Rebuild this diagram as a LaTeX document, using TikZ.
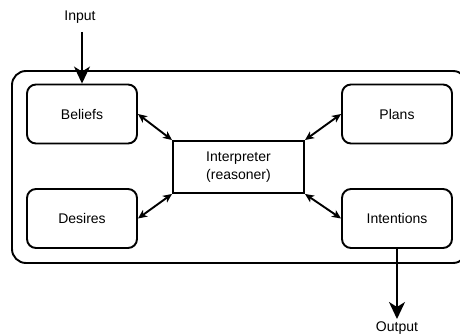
\documentclass[tikz,border=0pt]{standalone}
\usepackage{fontspec}
\setmainfont{Liberation Sans}
\usetikzlibrary{arrows.meta}
\begin{document}
\begin{tikzpicture}[x=1pt,y=-1pt,
  line width=1.9pt,
  font=\fontsize{14}{17}\selectfont,
  part/.style={draw, rounded corners=9pt, minimum width=110pt, minimum height=59pt, inner sep=0pt},
  core/.style={draw, minimum width=131pt, minimum height=52pt, inner sep=0pt, align=center},
  label/.style={inner sep=0pt},
  link/.style={{Stealth[length=9pt,width=8pt,inset=2.5pt]}-{Stealth[length=9pt,width=8pt,inset=2.5pt]}},
  flow/.style={-{Stealth[length=17pt,width=16pt,inset=5pt]}}
]
\useasboundingbox (0,0) rectangle (460,334);
\clip (0,0) rectangle (460,334);

% enclosing agent boundary (runs past the right edge)
\draw[rounded corners=14pt] (12,71) rectangle (467,263);

% components
\node[part] (beliefs)    at (82,114)  {Beliefs};
\node[part] (plans)      at (397,114) {Plans};
\node[part] (desires)    at (82,218.5)  {Desires};
\node[part] (intentions) at (397,218.5) {Intentions};
\node[core] (interp)     at (238.5,167) {Interpreter\\[1pt](reasoner)};

% interpreter links
\draw[link] (beliefs.east)    -- (interp.north west);
\draw[link] (plans.west)      -- (interp.north east);
\draw[link] (desires.east)    -- (interp.south west);
\draw[link] (intentions.west) -- (interp.south east);

% input and output
\node[label, anchor=base] (input) at (80,21) {Input};
\coordinate (inTail) at (82,32);
\draw[flow] (inTail) -- (beliefs.north);

\node[label, anchor=north] (output) at (397,320.5) {Output};
\draw[flow, shorten >=1.5pt] (intentions.south) -- (output.north);
\end{tikzpicture}
\end{document}
